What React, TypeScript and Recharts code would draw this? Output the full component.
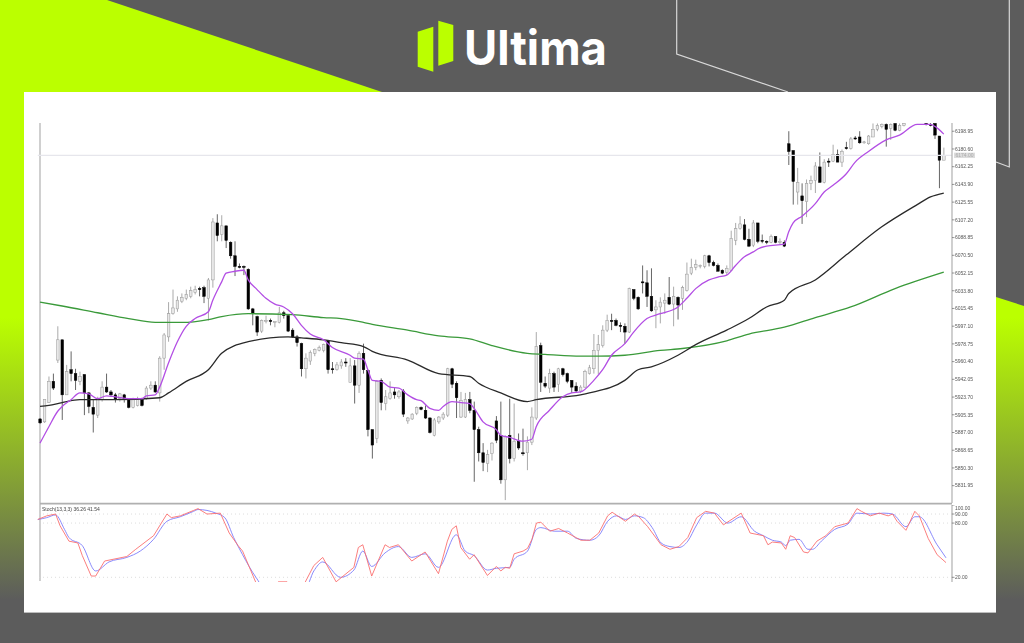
import React from 'react';
import { Bar, ComposedChart, Line, ReferenceLine, XAxis, YAxis } from 'recharts';

// candles, oldest first
const opens = [
  5901,5898,5918,5940,5962,5983,5926,5952,5948,5940, 5947,5928,5913,5905,5921,5934,5929,5926,5922,5926,
  5921,5913,5915,5921,5922,5933,5936,5928,5964,5986, 6010,6015,6023,6026,6028,6032,6036,6037,6026,6045,
  6104,6092,6101,6084,6070,6059,6059,6056,6015,6007, 5992,6002,6003,6001,6001,6011,6008,5993,5986,5979,
  5953,5961,5969,5972,5972,5982,5953,5952,5956,5960, 5939,5956,5936,5969,5951,5890,5881,5941,5917,5922,
  5929,5924,5930,5899,5901,5907,5913,5910,5902,5884, 5898,5902,5905,5953,5938,5903,5903,5921,5910,5890,
  5866,5855,5865,5899,5884,5838,5884,5860,5878,5866, 5866,5877,5902,5977,5938,5933,5948,5937,5953,5948,
  5941,5935,5930,5934,5948,5953,5972,5977,5993,6003, 6003,5998,5997,5991,6035,6027,6043,6042,6028,6014,
  6017,6021,6027,6020,6027,6026,6034,6052,6058,6059, 6059,6070,6063,6060,6055,6053,6055,6086,6098,6102,
  6087,6081,6104,6086,6085,6084,6090,6084,6084,6186, 6179,6136,6132,6126,6145,6148,6162,6146,6168,6168,
  6175,6167,6182,6181,6192,6193,6187,6186,6193,6201, 6204,6206,6202,6207,6200,6205,6213,6214,6214,6213,
  6207,6206,6207,6194,6169,
];
const closes = [
  5897,5921,5940,5933,5983,5926,5950,5948,5941,5945, 5928,5914,5906,5921,5934,5929,5926,5921,5927,5921,
  5913,5921,5922,5915,5933,5936,5929,5964,5988,6010, 6016,6024,6027,6030,6034,6035,6035,6028,6045,6105,
  6091,6101,6086,6070,6059,6058,6058,6015,6010,5991, 6003,6003,6002,6002,6011,6008,5992,5986,5980,5953,
  5964,5970,5973,5975,5978,5952,5952,5957,5960,5959, 5956,5936,5969,5952,5890,5874,5940,5918,5924,5928,
  5926,5929,5906,5902,5906,5913,5911,5902,5887,5900, 5903,5906,5953,5937,5923,5920,5921,5910,5890,5866,
  5856,5864,5876,5879,5838,5883,5860,5878,5871,5865, 5877,5903,5976,5939,5935,5948,5934,5953,5947,5940,
  5934,5930,5934,5950,5954,5972,5978,5993,6003,6002, 5998,5997,5991,6036,6026,6015,6042,6028,6013,6017,
  6022,6024,6020,6028,6019,6037,6051,6058,6061,6060, 6070,6063,6060,6054,6052,6057,6088,6098,6103,6087,
  6080,6104,6085,6085,6084,6090,6084,6085,6080,6178, 6147,6146,6127,6145,6148,6163,6146,6167,6167,6175,
  6167,6178,6181,6191,6191,6187,6188,6194,6201,6205, 6206,6201,6206,6200,6205,6207,6214,6213,6215,6212,
  6206,6205,6195,6169,6174,
];
const highs = [
  5902,5921,5945,5948,5997,5983,5957,5971,5953,5950, 5947,5929,5921,5924,5940,5948,5931,5928,5928,5927,
  5922,5923,5924,5923,5935,5940,5940,5966,5990,6022, 6035,6028,6031,6035,6038,6039,6038,6039,6047,6109,
  6113,6112,6101,6085,6085,6062,6060,6057,6016,6008, 6004,6008,6005,6002,6017,6013,6009,5995,5988,5980,
  5969,5972,5974,5977,5979,5983,5960,5960,5963,5964, 5964,5962,5971,5979,5952,5890,5941,5943,5931,5940,
  5933,5931,5932,5903,5907,5914,5914,5915,5903,5902, 5904,5908,5954,5954,5940,5929,5928,5929,5919,5893,
  5876,5869,5877,5904,5919,5884,5922,5917,5886,5891, 5883,5913,5991,5980,5945,5953,5950,5954,5954,5949,
  5941,5939,5936,5952,5957,5989,5988,5998,6009,6010, 6005,6001,6000,6037,6035,6028,6060,6055,6057,6024,
  6027,6031,6048,6038,6028,6039,6063,6067,6066,6061, 6071,6071,6065,6062,6056,6060,6096,6104,6111,6108,
  6098,6107,6104,6092,6086,6092,6090,6088,6086,6199, 6179,6161,6145,6149,6153,6167,6177,6170,6171,6185,
  6180,6180,6188,6193,6194,6199,6189,6195,6207,6207, 6207,6207,6207,6207,6207,6209,6216,6216,6217,6215,
  6208,6208,6210,6194,6182,
];
const lows = [
  5896,5897,5918,5931,5959,5900,5926,5940,5931,5936, 5905,5907,5887,5902,5919,5928,5924,5918,5919,5918,
  5912,5912,5914,5914,5921,5931,5928,5919,5952,5981, 6009,6012,6021,6024,6026,6030,6028,6021,6003,6037,
  6085,6085,6078,6067,6049,6057,6050,6014,5998,5987, 5990,6000,5998,5996,6000,6005,5991,5985,5976,5945,
  5943,5957,5966,5971,5970,5948,5948,5951,5953,5955, 5939,5917,5928,5948,5883,5860,5876,5910,5910,5921,
  5922,5922,5903,5896,5900,5905,5910,5901,5886,5883, 5896,5900,5903,5933,5902,5902,5902,5907,5836,5857,
  5847,5846,5858,5876,5834,5817,5855,5857,5869,5863, 5848,5874,5900,5929,5933,5928,5929,5929,5945,5938,
  5928,5928,5928,5933,5947,5948,5947,5975,5991,5993, 5997,5991,5979,5990,6024,6014,6031,6017,6012,5995,
  6000,6010,6019,5997,6004,6014,6033,6050,6055,6057, 6057,6059,6059,6054,6051,6050,6054,6081,6097,6086,
  6079,6079,6083,6083,6082,6083,6083,6082,6079,6164, 6123,6123,6103,6110,6138,6135,6146,6145,6162,6167,
  6167,6162,6180,6180,6190,6186,6186,6185,6193,6199, 6202,6183,6190,6199,6199,6204,6212,6212,6213,6211,
  6205,6204,6191,6140,6169,
];

const purpleMa: [number, number][] = [
  [0,5876],[2,5893],[4,5909],[5,5914],[7,5921],[9,5928],[11,5927],[13,5922],[15,5925],[17,5924],[20,5922],[23,5922],
  [24,5925],[26,5926],[27,5934],[29,5959],[31,5981],[33,5997],[35,6005],[38,6012],[39,6024],[41,6043],[42,6052],
  [44,6054],[46,6055],[47,6045],[49,6035],[51,6026],[53,6020],[55,6017],[57,6010],[59,5998],[61,5989],[64,5983],
  [66,5975],[70,5967],[71,5964],[73,5963],[74,5952],[75,5941],[77,5940],[79,5934],[81,5933],[83,5926],[85,5921],
  [86,5920],[88,5912],[90,5910],[91,5914],[93,5919],[95,5918],[97,5917],[98,5912],[100,5898],[103,5890],[104,5884],
  [106,5882],[109,5878],[111,5880],[112,5893],[115,5910],[118,5924],[120,5928],[122,5929],[125,5941],[127,5952],
  [129,5967],[132,5979],[134,5991],[137,6005],[140,6010],[144,6017],[146,6026],[148,6036],[151,6045],[153,6048],
  [155,6050],[157,6060],[159,6069],[161,6074],[162,6077],[164,6080],[168,6082],[169,6095],[170,6104],[172,6111],
  [175,6124],[177,6136],[179,6143],[182,6155],[184,6167],[187,6178],[191,6190],[194,6195],[198,6206],[201,6206],
  [202,6204],[204,6196],
];
const blackMa: [number, number][] = [
  [0,5914],[2,5915],[5,5918],[9,5921],[17,5921],[27,5923],[29,5928],[33,5940],[38,5952],[41,5969],[47,5981],[56,5986],
  [59,5985],[64,5983],[68,5980],[73,5976],[75,5971],[83,5962],[90,5948],[97,5945],[99,5938],[104,5928],[110,5919],
  [112,5921],[122,5926],[124,5928],[132,5941],[135,5952],[138,5955],[144,5967],[148,5978],[155,5993],[160,6005],
  [164,6017],[168,6024],[169,6031],[175,6045],[182,6071],[190,6100],[198,6123],[201,6131],[204,6135],
];
const greenMa: [number, number][] = [
  [0,6022],[5,6018],[13,6011],[20,6005],[26,6001],[32,6001],[38,6004],[41,6007],[47,6010],[57,6009],[64,6006],[68,6005],
  [73,6001],[75,5999],[83,5993],[90,5987],[97,5984],[102,5977],[110,5969],[114,5968],[122,5966],[126,5966],[132,5967],
  [140,5972],[145,5974],[155,5982],[160,5989],[168,5996],[175,6006],[183,6017],[193,6036],[204,6053],
];

const stochMain: [number, number][] = [
  [0,84],[2,88],[4,90],[5,77],[7,60],[9,58],[10,44],[12,21.4],[13,21.4],[15,38],[16,39],[20,43],[22,51],[26,66],[29,90],
  [30,86],[32,88],[35,94],[36,96],[38,90],[41,91],[43,69],[45,55],[46,49],[49,14],[50,0],[52,2],[54,15],[56,15],[57,10],
  [59,3],[60,14],[62,33],[64,42],[67,15],[71,31],[72,53],[73,56],[75,21.4],[78,56],[79,53],[81,56],[84,38],[87,48],[90,24],
  [92,60],[93,73],[94,77],[95,53],[97,40],[98,45],[101,22],[103,32],[104,27],[105,31],[106,30],[107,46],[109,49],[110,52],
  [111,62],[112,80],[113,81],[115,71],[117,74],[119,69],[122,61],[124,61],[126,69],[128,88],[129,92],[132,82],[134,90],
  [135,87],[137,76],[140,56],[142,51],[144,54],[146,64],[148,86],[150,93],[152,91],[154,78],[158,91],[160,69],[163,66],
  [164,56],[165,59],[167,58],[168,51],[169,66],[170,64],[172,48],[173,47],[175,60],[177,66],[179,76],[182,80],[184,96],
  [185,93],[187,88],[189,91],[191,88],[192,90],[193,82],[195,72],[197,93],[198,88],[200,63],[202,45],[204,36.26],
];
const stochSignal: [number, number][] = [
  [0,84],[2,86],[4,89],[6,73],[7,64],[10,55],[13,27],[16,37],[20,42],[23,49],[26,62],[29,82],[32,87],[35,93],[36,95],[40,91],
  [42,86],[44,64],[46,45],[49,20],[51,8],[56,13],[60,7],[62,27],[64,37],[68,20],[71,28],[73,49],[75,32],[78,47],[81,54],
  [84,42],[87,46],[90,31],[94,67],[96,49],[98,44],[101,28],[103,30],[106,31],[107,40],[110,49],[112,73],[113,75],[116,71],
  [119,71],[121,63],[124,61],[126,66],[128,82],[130,88],[132,84],[134,88],[136,86],[138,75],[140,58],[142,54],[144,53],
  [146,60],[148,78],[150,91],[152,91],[155,80],[158,87],[161,71],[163,66],[165,61],[167,59],[168,55],[169,61],[171,62],
  [173,51],[174,51],[176,60],[179,73],[182,79],[184,91],[187,90],[190,91],[192,90],[195,76],[197,87],[198,87],[202,56],
  [204,41.54],
];

const priceTicks = [
  6198.95, 6180.6, 6162.25, 6143.9, 6125.55, 6107.2, 6088.85, 6070.5, 6052.15, 6033.8, 6015.45,
  5997.1, 5978.75, 5960.4, 5942.05, 5923.7, 5905.35, 5887, 5868.65, 5850.3, 5831.95,
];
const stochTicks = [100, 90, 80, 20];
const stochLevels = [90, 80, 20];
const lastPrice = 6174;

const lookup = (pairs: [number, number][]) => new Map(pairs);
const purpleAt = lookup(purpleMa);
const blackAt = lookup(blackMa);
const greenAt = lookup(greenMa);
const mainAt = lookup(stochMain);
const signalAt = lookup(stochSignal);

const priceRows = opens.map((open, i) => ({
  i,
  open,
  close: closes[i],
  range: [lows[i], highs[i]],
  purple: purpleAt.get(i) ?? null,
  black: blackAt.get(i) ?? null,
  green: greenAt.get(i) ?? null,
}));
const stochRows = opens.map((_, i) => ({
  i,
  main: mainAt.get(i) ?? null,
  signal: signalAt.get(i) ?? null,
}));

const Candle = (props: any) => {
  const { x, y, width, height, payload } = props;
  const [low, high] = payload.range;
  const perUnit = height / (high - low);
  const up = payload.close >= payload.open;
  const cx = x + width / 2;
  const top = y + (high - Math.max(payload.open, payload.close)) * perUnit;
  const bodyH = Math.max(Math.abs(payload.close - payload.open) * perUnit, 1);
  return (
    <g>
      <line x1={cx} x2={cx} y1={y} y2={y + height} stroke={up ? '#a0a0a0' : '#555'} strokeWidth={0.9} />
      <rect
        x={x}
        y={top}
        width={width}
        height={bodyH}
        fill={up ? '#e8e8e8' : '#000'}
        stroke={up ? '#969696' : '#000'}
        strokeWidth={0.5}
      />
    </g>
  );
};

const PriceTag = (props: any) => {
  const y = props.viewBox.y;
  return (
    <g>
      <rect x={954} y={y - 2.7} width={21} height={5.4} fill="#dcdcdc" />
      <text x={955.5} y={y + 1.8} fontSize={5} fontFamily="Liberation Sans" fill="#aaa">
        {lastPrice.toFixed(2)}
      </text>
    </g>
  );
};

const StochTick = (props: any) => {
  const { x, y, payload } = props;
  return (
    <text x={x} y={y + (payload.value === 100 ? 4.6 : 1.8)} fontSize={5} fontFamily="Liberation Sans" fill="#555">
      {payload.value.toFixed(2)}
    </text>
  );
};

const Background = () => (
  <svg width={1024} height={643} style={{ position: 'absolute', left: 0, top: 0 }}>
    <defs>
      <linearGradient id="fade" gradientUnits="userSpaceOnUse" x1={0} y1={318} x2={0} y2={600}>
        <stop offset="0" stopColor="#bbff00" />
        <stop offset="1" stopColor="#5c5c5c" />
      </linearGradient>
    </defs>
    <rect width={1024} height={643} fill="#5c5c5c" />
    <polygon points="0,0 107,0 382,92 382,643 0,643" fill="url(#fade)" />
    <polygon points="996,297 1024,306 1024,643 996,643" fill="url(#fade)" />
    <polyline points="676.7,0 676.7,54 788,92" fill="none" stroke="#d8d8d8" strokeWidth={1.2} />
    <polyline points="1009.3,0 1009.3,167 996,162" fill="none" stroke="#d8d8d8" strokeWidth={1.2} />
    <polygon points="417.7,31.7 433.3,26.7 433.3,71.7 417.7,66.7" fill="#bbff00" />
    <polygon points="438.3,20.7 453.3,25 453.3,61 438.3,65.7" fill="#bbff00" />
    <text x={464} y={65} fontFamily="Inter" fontWeight={700} fontSize={48} fill="#fff" textLength={143} lengthAdjust="spacingAndGlyphs">
      Ultima
    </text>
    <rect x={24} y={92} width={972} height={520.5} fill="#fff" />
    <rect x={24} y={612} width={972} height={1} fill="#bdbdbd" />
    <line x1={40} x2={40} y1={123} y2={581} stroke="#b0b0b0" strokeWidth={1.2} />
    <line x1={40} x2={952} y1={503.6} y2={503.6} stroke="#b0b0b0" strokeWidth={1.8} />
  </svg>
);

export default function App() {
  return (
    <div style={{ position: 'absolute', left: 0, top: 0, width: 1024, height: 643, overflow: 'hidden' }}>
      <Background />
      <div style={{ position: 'absolute', left: 0, top: 123, filter: 'blur(0.45px)' }}>
        <ComposedChart width={1024} height={380} data={priceRows} margin={{ top: 0, right: 32, bottom: 0, left: 37.8 }}>
          <XAxis dataKey="i" hide padding={{ left: 0, right: 6 }} />
          <YAxis
            orientation="right"
            width={40}
            domain={[5814, 6207.5]}
            allowDataOverflow
            ticks={priceTicks}
            interval={0}
            tickFormatter={(v: number) => v.toFixed(2)}
            tick={{ fontSize: 5, fontFamily: 'Liberation Sans', fill: '#555' }}
            tickSize={2.5}
            tickMargin={0.5}
            axisLine={{ stroke: '#b0b0b0', strokeWidth: 1.2 }}
            tickLine={{ stroke: '#555', strokeWidth: 0.6 }}
          />
          <ReferenceLine y={lastPrice} stroke="#e6e6ec" strokeWidth={1.2} label={<PriceTag />} />
          <Bar dataKey="range" barSize={2.6} shape={<Candle />} isAnimationActive={false} />
          <Line dataKey="green" type="monotone" stroke="#3a9a3a" strokeWidth={1.3} dot={false} connectNulls isAnimationActive={false} />
          <Line dataKey="black" type="monotone" stroke="#2a2a2a" strokeWidth={1.3} dot={false} connectNulls isAnimationActive={false} />
          <Line dataKey="purple" type="monotone" stroke="#b34fe4" strokeWidth={1.3} dot={false} connectNulls isAnimationActive={false} />
        </ComposedChart>
      </div>
      <div style={{ position: 'absolute', left: 0, top: 504.5, filter: 'blur(0.45px)' }}>
        <ComposedChart width={1024} height={77} data={stochRows} margin={{ top: 0, right: 32, bottom: 0, left: 37.8 }}>
          <XAxis dataKey="i" hide padding={{ left: 0, right: 6 }} />
          <YAxis
            orientation="right"
            width={40}
            domain={[14.8, 100]}
            allowDataOverflow
            ticks={stochTicks}
            interval={0}
            tick={<StochTick />}
            tickSize={2.5}
            tickMargin={0.5}
            axisLine={{ stroke: '#b0b0b0', strokeWidth: 1.2 }}
            tickLine={{ stroke: '#555', strokeWidth: 0.6 }}
          />
          {stochLevels.map((v) => (
            <ReferenceLine key={v} y={v} stroke="#d4d4d4" strokeWidth={0.8} strokeDasharray="1 3" />
          ))}
          <Line dataKey="signal" type="monotone" stroke="#7d7dfa" strokeWidth={0.9} dot={false} connectNulls isAnimationActive={false} />
          <Line dataKey="main" stroke="#fb6f6f" strokeWidth={0.9} dot={false} connectNulls isAnimationActive={false} />
        </ComposedChart>
        <div style={{ position: 'absolute', left: 42, top: 1, fontSize: 5, lineHeight: '6px', fontFamily: 'Liberation Sans', color: '#444', whiteSpace: 'nowrap' }}>
          Stoch(13,3,3) 36.26 41.54
        </div>
      </div>
    </div>
  );
}
